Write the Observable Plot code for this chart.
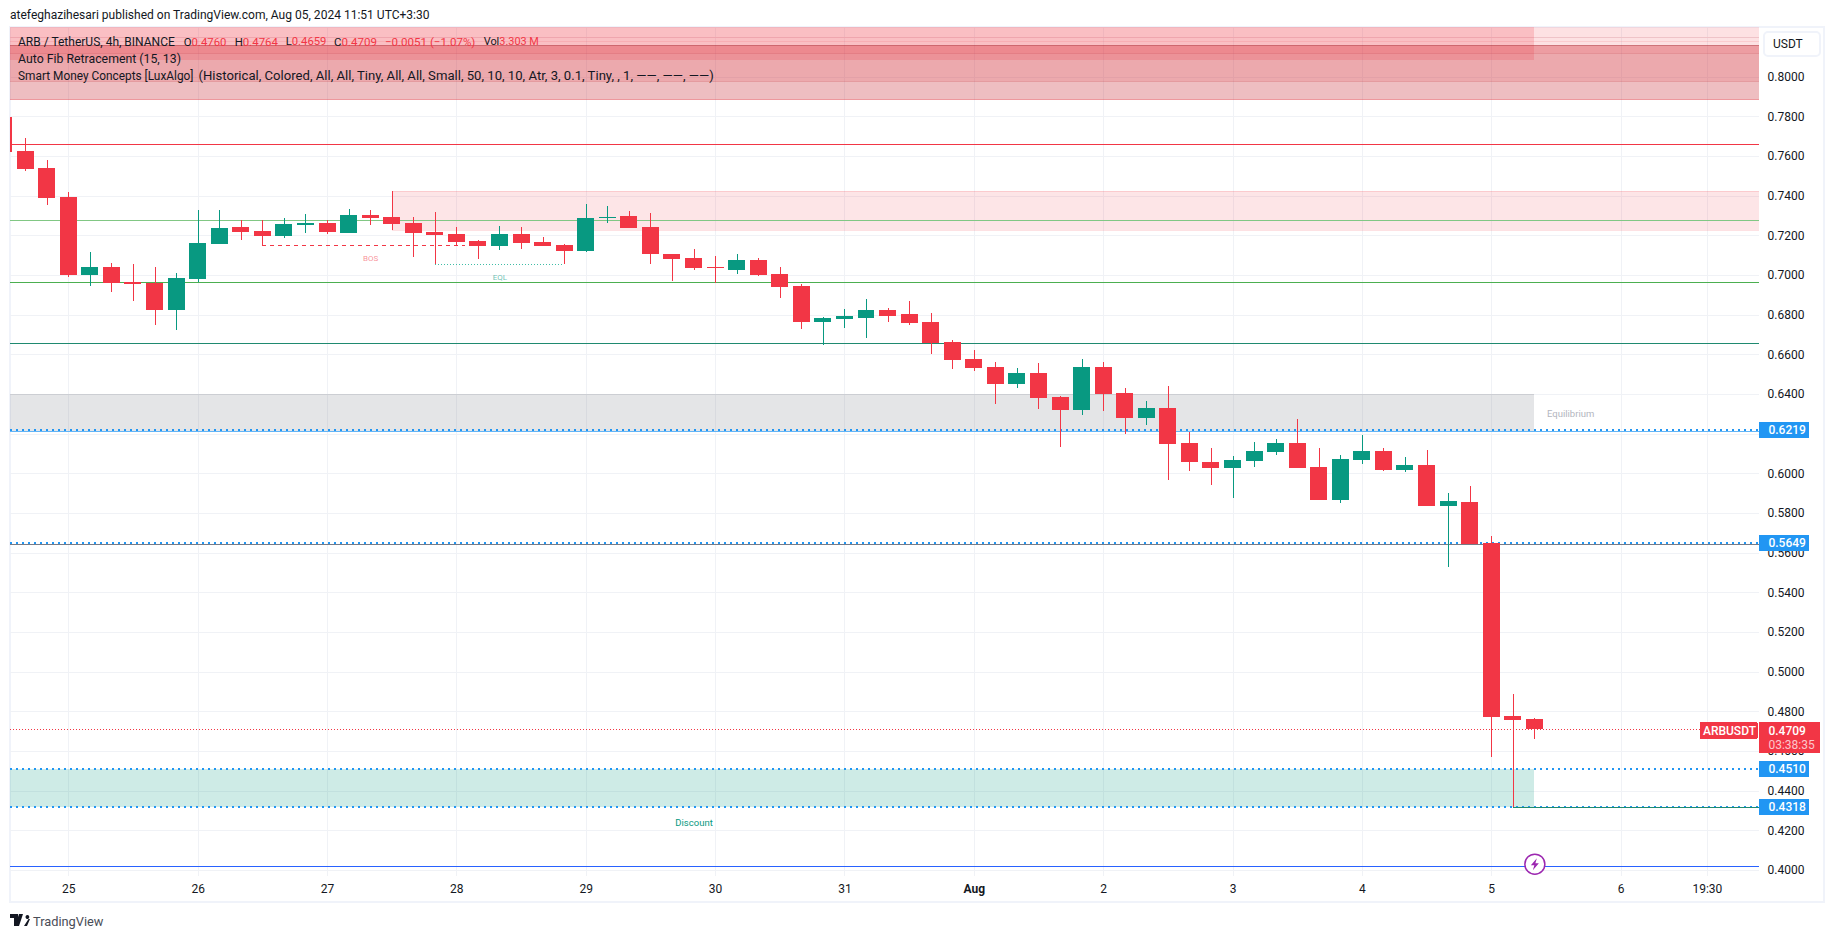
<!DOCTYPE html>
<html><head><meta charset="utf-8">
<script src="https://cdn.jsdelivr.net/npm/d3@7"></script>
<script src="https://cdn.jsdelivr.net/npm/@observablehq/plot@0.6"></script>
<style>
html,body{margin:0;padding:0;background:#fff;width:1835px;height:939px;overflow:hidden}
#wrap{position:relative;width:1835px;height:939px;font-family:Roboto,sans-serif;color:#131722}
#wrap svg.chart{display:block;position:absolute;left:0;top:0}
.ov{position:absolute;white-space:nowrap;line-height:16px}
.r{color:#f23645}
#frame{position:absolute;left:9px;top:26px;width:1816px;height:877px;box-sizing:border-box;border:2px solid #f0f3fa}
#usdt{position:absolute;left:1763px;top:31px;width:58px;height:26px;box-sizing:border-box;border:2px solid #f0f3fa;border-radius:5px;background:#fff;font-size:12px;line-height:22px;padding-left:8px}
</style></head><body><div id="wrap"><div id="frame"></div></div>
<script>
// candle index 0 = 25 Jul first candle, 6 candles per day
const firstIndex = -3;
const open = [.7797,.7625,.7539,.7393,.7000,.7041,.6965,.6960,.6824,.6980,
.7156,.7242,.7222,.7197,.7252,.7262,.7212,.7303,.7293,.7262,
.7217,.7207,.7172,.7146,.7207,.7167,.7151,.7121,.7287,.7297,
.7242,.7106,.7086,.7040,.7025,.7075,.7005,.6945,.6763,.6778,
.6783,.6824,.6803,.6763,.6662,.6577,.6536,.6451,.6506,.6385,
.6320,.6536,.6405,.6279,.6329,.6153,.6057,.6027,.6062,.6108,
.6153,.6032,.5866,.6067,.6113,.6017,.6042,.5835,.5856,.5649,
.4777,.4760];
const close = [.7620,.7534,.7390,.7000,.7041,.6960,.6955,.6824,.6985,.7162,
.7237,.7217,.7197,.7257,.7262,.7217,.7303,.7287,.7257,.7212,
.7202,.7167,.7146,.7207,.7161,.7146,.7121,.7287,.7293,.7237,
.7106,.7081,.7035,.7035,.7075,.7000,.6940,.6763,.6783,.6793,
.6824,.6793,.6758,.6657,.6572,.6531,.6451,.6506,.6380,.6319,
.6536,.6400,.6279,.6329,.6148,.6057,.6027,.6067,.6113,.6153,
.6027,.5866,.6072,.6113,.6017,.6042,.5835,.5861,.5646,.4772,
.4757,.4709];
const high = [.8000,.7691,.7580,.7419,.7116,.7061,.7056,.7041,.7010,.7328,
.7328,.7277,.7277,.7287,.7308,.7277,.7333,.7328,.7424,.7293,
.7318,.7242,.7177,.7247,.7242,.7192,.7156,.7358,.7348,.7323,
.7312,.7106,.7131,.7096,.7106,.7086,.7040,.6955,.6788,.6829,
.6879,.6834,.6869,.6808,.6672,.6622,.6562,.6531,.6556,.6390,
.6577,.6562,.6430,.6365,.6440,.6208,.6128,.6088,.6158,.6173,
.6274,.6128,.6093,.6193,.6128,.6082,.6118,.5901,.5936,.5684,
.4888,.4764];
const low = [.7600,.7526,.7355,.6990,.6945,.6915,.6869,.6748,.6723,.6965,
.7156,.7177,.7150,.7187,.7212,.7207,.7212,.7252,.7227,.7091,
.7054,.7151,.7081,.7126,.7131,.7146,.7054,.7116,.7262,.7237,
.7056,.6970,.7025,.6961,.7005,.6995,.6884,.6728,.6647,.6733,
.6683,.6763,.6748,.6602,.6526,.6516,.6350,.6431,.6325,.6133,
.6294,.6315,.6198,.6244,.5967,.6012,.5941,.5876,.6032,.6093,
.6027,.5866,.5851,.6047,.6012,.6007,.5835,.5528,.5646,.4570,
.4318,.4659];

const dayTicks = [0,6,12,18,24,30,36,48,54,60,66,72,76];
const dayLabels = ["25","26","27","28","29","30","31","2","3","4","5","6","19:30"];
const monthTicks = [42];
const monthLabels = ["Aug"];
const priceGrid = [.40,.42,.44,.46,.48,.50,.52,.54,.56,.58,.60,.62,.64,.66,.68,.70,.72,.74,.76,.78,.80,.82];
const priceLabels = [.40,.42,.44,.46,.48,.50,.52,.54,.56,.58,.60,.64,.66,.68,.70,.72,.74,.76,.78,.80];
const levelTags = [.6219,.5649,.4510,.4318];
const lastPrice = .4709;
const countdown = "03:38:35";
const symbolName = "ARBUSDT";

const zoneTops = [.8250,.8160,.8250,.8160,.7424,.6400,.4510];
const zoneBottoms = [.7980,.7889,.8084,.8119,.7227,.6213,.4318];
const zoneEnds = [78.42,78.42,68,78.42,78.42,68,68];
const zoneStarts = [-2.704,-2.704,-2.704,-2.704,15,-2.704,-2.704];
const zoneFills = ["rgba(242,54,69,.15)","rgba(200,40,51,.3)","rgba(242,54,69,.2)","rgba(242,54,69,.1)","rgba(242,54,69,.13)","rgba(120,123,134,.2)","rgba(8,153,129,.2)"];
const zoneEdges = ["rgba(200,50,60,.25)","rgba(220,50,60,.5)","none","rgba(200,50,60,.2)","rgba(242,54,69,.15)","rgba(120,123,134,.12)","none"];
const faintLevels = [.8198,.8181];

const levelPrices = [.8160,.7659,.7276,.6963,.6656,.6212,.5644,.4020];
const levelColors = ["rgba(150,40,50,.35)","#f23645","#81c784","#4caf50","#1f8a70","#64b5f6","#787b86","#2962ff"];

const X0 = 68.3, DX = 21.56;
const px = v => (v - X0) / DX;       // pixel to candle index, for the price-axis tags
const candles = d3.range(open.length).map(k => ({
  i: firstIndex + k, o: open[k], c: close[k], h: high[k], l: low[k],
  col: close[k] >= open[k] ? "#089981" : "#f23645"
}));
const zones = zoneTops.map((t,k)=>({t,b:zoneBottoms[k],s:zoneStarts[k],e:zoneEnds[k],f:zoneFills[k],g:zoneEdges[k]}));
const levels = levelPrices.map((p,k)=>({p,c:levelColors[k]}));
const XL = -2.704, XR = 78.42;
const TH = .0042;
const crisp = {shapeRendering:"crispEdges"};

const chart = Plot.plot({
  width:1835, height:939,
  marginLeft:10, marginRight:76, marginTop:27, marginBottom:63,
  x:{domain:[XL,XR], range:[10,1759], axis:null},
  y:{domain:[.39698,.82503], range:[876,27], axis:null},
  color:{type:"identity"},
  style:{fontFamily:"Roboto, sans-serif", fontSize:"12px", background:"transparent", color:"#131722", overflow:"visible"},
  marks:[
    Plot.ruleY(priceGrid,{stroke:"#f0f2f6",strokeWidth:1,...crisp}),
    Plot.ruleX(dayTicks.concat(monthTicks),{stroke:"#f0f2f6",strokeWidth:1,...crisp}),
    Plot.rect(zones,{x1:"s",x2:"e",y1:"b",y2:"t",fill:"f",clip:true,...crisp}),
    Plot.ruleY(zones.filter(z=>z.g!=="none"),{x1:"s",x2:"e",y:"b",stroke:"g",strokeWidth:1,...crisp}),
    Plot.ruleY(zones.slice(4,6),{x1:"s",x2:"e",y:"t",stroke:"g",strokeWidth:1,...crisp}),
    Plot.ruleY(faintLevels,{stroke:"rgba(242,54,69,.12)",strokeWidth:1,...crisp}),
    Plot.ruleY(levels,{y:"p",stroke:"c",strokeWidth:1,...crisp}),
    // Dotted liquidity levels
    Plot.ruleY(levelTags,{x1:XL,x2:XR,stroke:"#2196f3",strokeWidth:2,strokeDasharray:"2,4",...crisp}),
    Plot.ruleY([.4318],{x1:67,x2:XR,stroke:"#1f8a70",strokeWidth:1,...crisp}),
    Plot.ruleY([lastPrice],{x1:XL,x2:XR,stroke:"#f23645",strokeWidth:1,strokeDasharray:"1,2",...crisp}),
    // BOS / EQL
    Plot.ruleY([.7150],{x1:9,x2:18.4,stroke:"#f23645",strokeWidth:1,strokeDasharray:"4,4",...crisp}),
    Plot.ruleY([.7054],{x1:17,x2:23,stroke:"#3fbda6",strokeWidth:1,strokeDasharray:"1.5,1.5",...crisp}),
    // Candles
    Plot.ruleX(candles,{x:"i",y1:"l",y2:"h",stroke:"col",strokeWidth:1,clip:true,...crisp}),
    Plot.rect(candles,{x1:d=>d.i-.394,x2:d=>d.i+.394,y1:"o",y2:"c",fill:"col",clip:true,...crisp}),
    Plot.text(["BOS"],{x:14,y:.7088,fill:"#f23645",fillOpacity:.55,fontSize:8}),
    Plot.text(["EQL"],{x:20,y:.6992,fill:"#089981",fillOpacity:.6,fontSize:8}),
    Plot.text(["Equilibrium"],{x:69.66,y:.6304,fill:"#b2b5be",fontSize:9.5}),
    Plot.text(["Discount"],{x:29,y:.4242,fill:"#089981",fontSize:9.5}),
    // Lightning marker
    Plot.dot([{i:68,p:.4032}],{x:"i",y:"p",r:10,fill:"#fff",stroke:"#9c27b0",strokeWidth:1.5}),
    Plot.dot([{i:68,p:.4032}],{x:"i",y:"p",fill:"#9c27b0",r:6,symbol:{draw(c){c.moveTo(2,-6);c.lineTo(-4,1);c.lineTo(-.5,1);c.lineTo(-2,6);c.lineTo(4,-1);c.lineTo(.5,-1);c.closePath();}}}),
    // Axes
    Plot.axisY({anchor:"right",ticks:priceLabels,tickSize:0,tickPadding:8,tickFormat:d3.format(".4f"),fill:"#131722",fontSize:12,textAnchor:"start",label:null}),
    Plot.axisX({anchor:"bottom",ticks:dayTicks,tickFormat:i=>dayLabels[dayTicks.indexOf(i)],tickSize:0,tickPadding:8,fill:"#131722",fontSize:12,label:null}),
    Plot.axisX({anchor:"bottom",ticks:monthTicks,tickFormat:i=>monthLabels[monthTicks.indexOf(i)],tickSize:0,tickPadding:8,fill:"#131722",fontSize:12,fontWeight:700,label:null}),
    // Price tags
    Plot.rect(levelTags,{x1:px(1759),x2:px(1809),y1:d=>d-TH,y2:d=>d+TH,fill:"#2196f3",rx:1,...crisp}),
    Plot.text(levelTags,{x:px(1768),y:d=>d,text:d=>d3.format(".4f")(d),fill:"#fff",fontWeight:500,fontSize:12,textAnchor:"start"}),
    Plot.rect([lastPrice],{x1:px(1759),x2:px(1820),y1:.45914,y2:.47447,fill:"#f23645",rx:1,...crisp}),
    Plot.rect([lastPrice],{x1:px(1700),x2:px(1757.7),y1:.46604,y2:.47447,fill:"#f23645",rx:1,...crisp}),
    Plot.text([symbolName],{x:px(1729),y:.4702,fill:"#fff",fontWeight:500,fontSize:12}),
    Plot.text([lastPrice],{x:px(1768),y:.4702,text:d=>d3.format(".4f")(d),fill:"#fff",fontWeight:500,fontSize:12,textAnchor:"start"}),
    Plot.text([countdown],{x:px(1768),y:.4633,fill:"#fcc7cc",fontSize:12,textAnchor:"start"})
  ]
});
chart.classList.add("chart");
const wrap = document.getElementById("wrap");
wrap.appendChild(chart);
function ov(html,x,y,size,extra){const d=document.createElement("div");d.className="ov";d.innerHTML=html;d.style.cssText=`left:${x}px;top:${y-8}px;font-size:${size}px;${extra||""}`;wrap.appendChild(d);return d;}
// place a header segment so it spans the same width as in the reference
function fit(html,x,x2,y){const d=ov(html,x,y,12);d.style.fontSize=(12*(x2-x)/d.getBoundingClientRect().width)+"px";return d;}
fit("atefeghazihesari published on TradingView.com, Aug 05, 2024 11:51 UTC+3:30",10,430,15);
fit("ARB / TetherUS, 4h, BINANCE",18,175,41.5);
fit('O<span class="r">0.4760</span>',183.7,226.5,41.5);
fit('H<span class="r">0.4764</span>',234.7,278,41.5);
fit('L<span class="r">0.4659</span>',285.7,326.5,41.5);
fit('C<span class="r">0.4709</span>',334,377,41.5);
fit('<span class="r">−0.0051 (−1.07%)</span>',385,475.5,41.5);
fit('Vol<span class="r">3.303 M</span>',483.7,539,41.5);
fit("Auto Fib Retracement (15, 13)",18,181,58.7);
fit("Smart Money Concepts [LuxAlgo]",18,193.5,76);
fit("(Historical, Colored, All, All, Tiny, All, All, Small, 50, 10, 10, Atr, 3, 0.1, Tiny, , 1, ——, ——, ——)",198.5,714,76);
const u=document.createElement("div");u.id="usdt";u.textContent="USDT";wrap.appendChild(u);
ov('<svg width="20" height="12" viewBox="0 0 20 12" style="vertical-align:-1px"><path fill="#131722" d="M0 0h8v12H4V4H0zM9 0h4l-4 12H5zM15.5 3a1.9 1.9 0 1 0 0-.01zM14 12l4.5-7H20l-3 7z"/></svg>',10,921,12);
fit('<span style="color:#4a4d57">TradingView</span>',33,103.5,921.5);
</script></body></html>
